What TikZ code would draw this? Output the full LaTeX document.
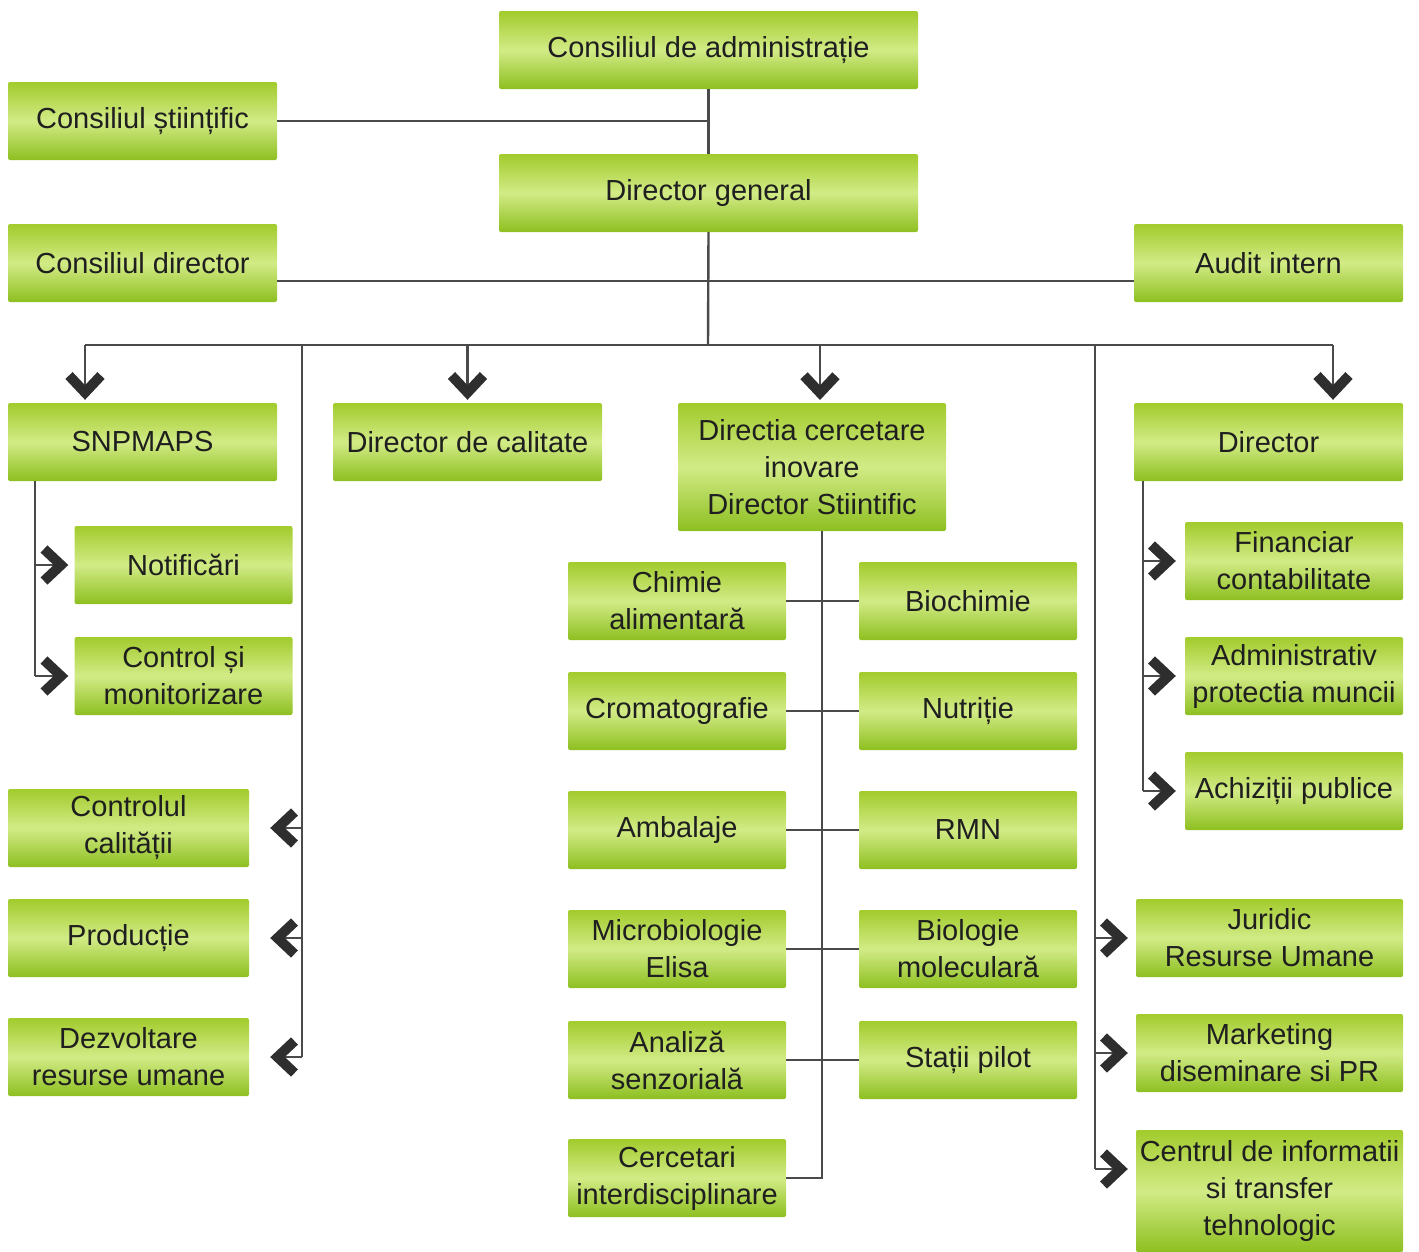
\documentclass[tikz,border=0pt]{standalone}
\usepackage{fontspec}
\setmainfont{Liberation Sans}
\usetikzlibrary{arrows.meta}

\definecolor{gtop}{HTML}{A2CB2C}
\definecolor{gmid}{HTML}{D2EB86}
\definecolor{gbot}{HTML}{8DBF20}
\definecolor{ln}{HTML}{4A4A4A}
\definecolor{tip}{HTML}{2E2E2E}

\tikzset{
  box/.style={rounded corners=2pt, top color=gtop, bottom color=gbot, middle color=gmid,
    minimum height=78pt, minimum width=269pt, inner sep=1pt, align=center,
    text=black!88, font=\fontsize{29}{37}\selectfont},
  sub/.style={box, minimum width=218pt},
  line/.style={draw=ln, line width=2.4pt},
  arr/.style={line, -{Straight Barb[length=17pt,width=32pt,line width=10pt,color=tip]}}
}

\begin{document}
\begin{tikzpicture}[x=1pt,y=-1pt]
\useasboundingbox (0,0) rectangle (1419,1251);

% top of the chart
\node[box, minimum width=419pt] (cda) at (708.5,50) {Consiliul de administrație};
\node[box] (cst) at (142.5,121) {Consiliul științific};
\node[box, minimum width=419pt] (dg) at (708.5,193) {Director general};
\node[box] (cdir) at (142.5,263) {Consiliul director};
\node[box] (audit) at (1268.5,263) {Audit intern};

% second level
\node[box] (snp) at (142.5,442) {SNPMAPS};
\node[box] (dcal) at (467.5,442) {Director de calitate};
\node[box, minimum width=268pt, minimum height=128pt] (dci) at (812,467) {Directia cercetare\\inovare\\Director Stiintific};
\node[box] (dir) at (1268.5,442) {Director};

% under SNPMAPS
\node[sub] (notif) at (183.5,565) {Notificări};
\node[sub] (ctrlm) at (183.5,676) {Control și\\monitorizare};

% left column
\node[box, minimum width=241pt] (ccal) at (128.5,828) {Controlul\\calității};
\node[box, minimum width=241pt] (prod) at (128.5,938) {Producție};
\node[box, minimum width=241pt] (drum) at (128.5,1057) {Dezvoltare\\resurse umane};

% laboratories
\node[sub] (chim) at (677,601) {Chimie\\alimentară};
\node[sub] (bioc) at (968,601) {Biochimie};
\node[sub] (crom) at (677,711) {Cromatografie};
\node[sub] (nutr) at (968,711) {Nutriție};
\node[sub] (amb) at (677,830) {Ambalaje};
\node[sub] (rmn) at (968,830) {RMN};
\node[sub] (micro) at (677,949) {Microbiologie\\Elisa};
\node[sub] (biol) at (968,949) {Biologie\\moleculară};
\node[sub] (anal) at (677,1060) {Analiză\\senzorială};
\node[sub] (stat) at (968,1060) {Stații pilot};
\node[sub] (cerc) at (677,1178) {Cercetari\\interdisciplinare};

% under Director
\node[sub] (fin) at (1294,561) {Financiar\\contabilitate};
\node[sub] (adm) at (1294,676) {Administrativ\\protectia muncii};
\node[sub] (achiz) at (1294,791) {Achiziții publice};

% right column
\node[box, minimum width=267pt] (jur) at (1269.5,938) {Juridic\\Resurse Umane};
\node[box, minimum width=267pt] (mark) at (1269.5,1053) {Marketing\\diseminare si PR};
\node[box, minimum width=267pt, minimum height=122pt] (centr) at (1269.5,1191) {Centrul de informatii\\si transfer\\tehnologic};

% connectors
\coordinate (hub) at (708,345);
\coordinate (bl) at (85,345);
\coordinate (br) at (1333,345);
\coordinate (lv) at (302,345);
\coordinate (rv) at (1095,345);

\draw[line] (cda) -- (dg);
\draw[line] (cst.east) -- (cst.east -| dg.north);
\draw[line] (dg.south) -- (hub);
\draw[line] ([yshift=-18pt]cdir.east) -- ([yshift=-18pt]audit.west);
\draw[line] (bl) -- (br);

\draw[arr, shorten >=3pt] (bl) -- (bl |- snp.north);
\draw[arr, shorten >=3pt] (dcal.north |- bl) -- (dcal.north);
\draw[arr, shorten >=3pt] (820,345) -- (820,403);
\draw[arr, shorten >=3pt] (br) -- (br |- dir.north);

% SNPMAPS branch
\draw[line] (35,481) -- (35,676);
\draw[arr, shorten >=6pt] (35,565) -- (notif.west);
\draw[arr, shorten >=6pt] (35,676) -- (ctrlm.west);

% left branch
\draw[line] (lv) -- (lv |- drum);
\draw[arr, shorten >=21pt] (lv |- ccal) -- (ccal.east);
\draw[arr, shorten >=21pt] (lv |- prod) -- (prod.east);
\draw[arr, shorten >=21pt] (lv |- drum) -- (drum.east);

% research branch
\draw[line] (822,531) |- (cerc.east);
\draw[line] (chim.east) -- (bioc.west);
\draw[line] (crom.east) -- (nutr.west);
\draw[line] (amb.east) -- (rmn.west);
\draw[line] (micro.east) -- (biol.west);
\draw[line] (anal.east) -- (stat.west);

% Director branch
\draw[line] (1143,481) -- (1143,791);
\draw[arr, shorten >=9pt] (1143,561) -- (fin.west);
\draw[arr, shorten >=9pt] (1143,676) -- (adm.west);
\draw[arr, shorten >=9pt] (1143,791) -- (achiz.west);

% right branch
\draw[line] (rv) -- (1095,1169);
\draw[arr, shorten >=8pt] (rv |- jur) -- (jur.west);
\draw[arr, shorten >=8pt] (rv |- mark) -- (mark.west);
\draw[arr, shorten >=8pt] (1095,1169) -- ([yshift=22pt]centr.west);
\end{tikzpicture}
\end{document}
